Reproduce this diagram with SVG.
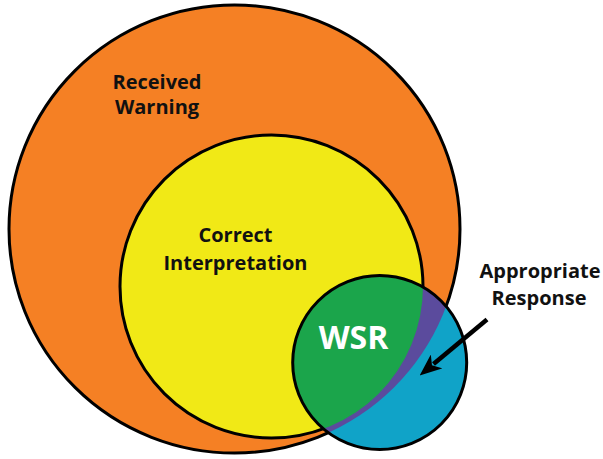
<svg xmlns="http://www.w3.org/2000/svg" width="603" height="459" viewBox="0 0 603 459">
  <style>
    .lbl { font-family: "Open Sans", "Liberation Sans", sans-serif; font-weight: bold; fill: #111111; text-anchor: middle; }
    .wsr { font-family: "Open Sans", "Liberation Sans", sans-serif; font-weight: bold; fill: #ffffff; text-anchor: middle; font-size: 32px; }
    .edge { stroke: #000000; stroke-width: 3; }
  </style>
  <defs>
    <clipPath id="blueClip">
      <circle cx="379.7" cy="362.5" r="87"/>
    </clipPath>
    <marker id="arrowHead" markerUnits="userSpaceOnUse" viewBox="0 0 22 18" refX="4" refY="9" markerWidth="22" markerHeight="18" orient="auto">
      <path d="M0,0 L22,9 L0,18 L6,9 Z" fill="#000000"/>
    </marker>
  </defs>
  <rect width="603" height="459" fill="#ffffff"/>

  <g id="received-warning">
    <ellipse cx="234.5" cy="229" rx="225.5" ry="224" fill="#F58024" class="edge"/>
    <text class="lbl" font-size="20" x="157" y="89">Received</text>
    <text class="lbl" font-size="20" x="157" y="114">Warning</text>
  </g>

  <g id="correct-interpretation">
    <ellipse cx="271.5" cy="286.5" rx="151.5" ry="151.5" fill="#F1E916" class="edge"/>
    <text class="lbl" font-size="20" x="235.5" y="242">Correct</text>
    <text class="lbl" font-size="20" x="235.5" y="270">Interpretation</text>
  </g>

  <g id="appropriate-response">
    <circle cx="379.7" cy="362.5" r="87" fill="#10A3C8"/>
    <ellipse cx="234.5" cy="229" rx="225.5" ry="224" fill="#5B4B9D" clip-path="url(#blueClip)"/>
    <ellipse cx="271.5" cy="286.5" rx="151.5" ry="151.5" fill="#1BA54B" clip-path="url(#blueClip)"/>
    <circle cx="379.7" cy="362.5" r="87" fill="none" class="edge"/>
    <text class="lbl" font-size="20" x="540" y="278">Appropriate</text>
    <text class="lbl" font-size="20" x="539" y="305">Response</text>
  </g>

  <g id="wsr">
    <text class="wsr" x="353.5" y="349">WSR</text>
  </g>

  <g id="connectors">
    <line x1="487" y1="319.5" x2="433.5" y2="364" stroke="#000000" stroke-width="4.5" marker-end="url(#arrowHead)"/>
  </g>
</svg>
